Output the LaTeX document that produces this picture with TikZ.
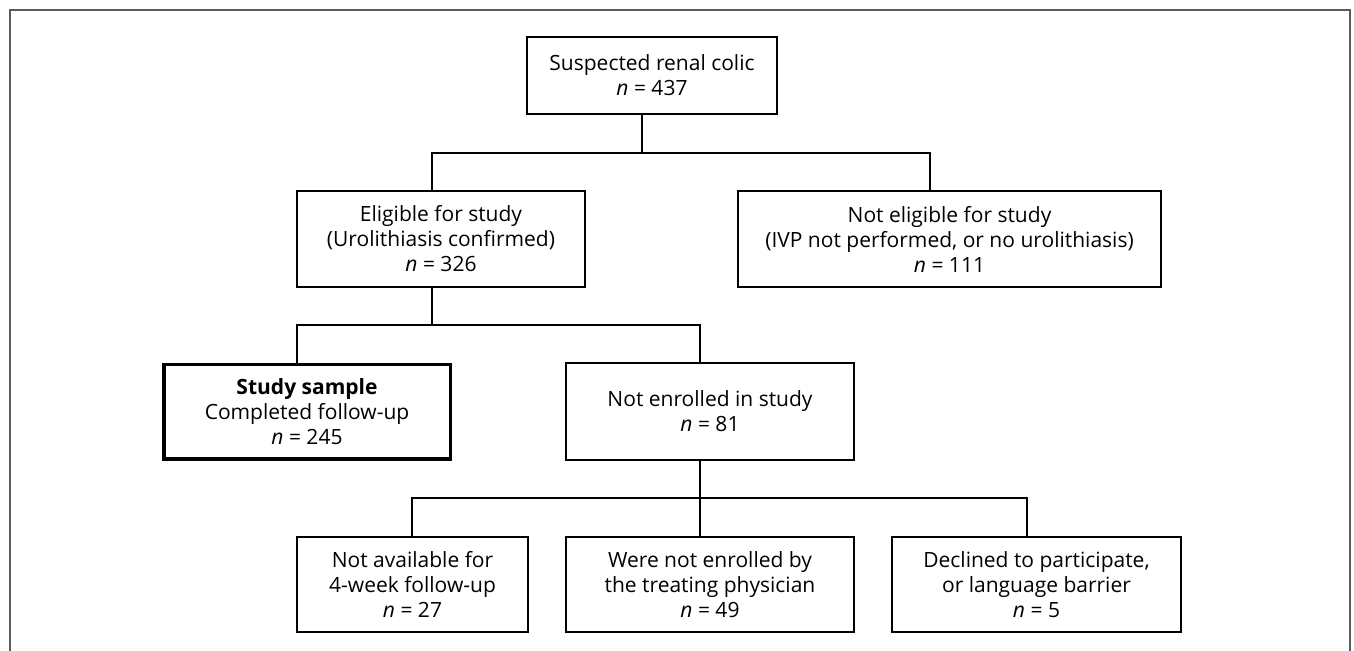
\documentclass[tikz,border=0pt]{standalone}
\usepackage{fontspec}
\setmainfont{Open Sans}
\usepackage{tikz}
\usetikzlibrary{positioning}
\definecolor{framegray}{RGB}{90,90,90}
\tikzset{%
  stage/.style={draw, rectangle, line width=0.75pt, align=center, inner sep=0pt,
    font=\fontsize{10.5}{12.5}\selectfont},% flow box
  sample/.style={stage, line width=1.75pt},% study sample box
  link/.style={line width=0.7pt}% connector
}

\begin{document}
\begin{tikzpicture}[x=0.5pt, y=-0.5pt]
\useasboundingbox (0,0) rectangle (1354,651);
\draw[framegray, line width=0.75pt] (10,651) -- (10,10) -- (1350,10) -- (1350,651);

\node[stage, minimum width=125pt, minimum height=38.5pt] (renal) at (652,75.5) {Suspected renal colic\\\textit{n} = 437};
\node[stage, minimum width=144pt, minimum height=48pt] (elig) at (441,239) {Eligible for study\\(Urolithiasis confirmed)\\\textit{n} = 326};
\node[stage, minimum width=211.5pt, minimum height=48pt] (notelig) at (949.5,239) {Not eligible for study\\(IVP not performed, or no urolithiasis)\\\textit{n} = 111};
\node[sample, minimum width=143.25pt, minimum height=47.25pt] (study) at (307,412) {\textbf{Study sample}\\Completed follow-up\\\textit{n} = 245};
\node[stage, minimum width=144pt, minimum height=48.5pt] (notenr) at (710,411.5) {Not enrolled in study\\\textit{n} = 81};
\node[stage, minimum width=115.5pt, minimum height=47.5pt] (avail) at (412.5,584.5) {Not available for\\4-week follow-up\\\textit{n} = 27};
\node[stage, minimum width=144pt, minimum height=47.5pt] (phys) at (710,584.5) {Were not enrolled by\\the treating physician\\\textit{n} = 49};
\node[stage, minimum width=144.5pt, minimum height=47.5pt] (decl) at (1036.5,584.5) {Declined to participate,\\or language barrier\\\textit{n} = 5};

% branch points
\coordinate (j1) at (642,153);
\coordinate (j1l) at (432,153);
\coordinate (j1r) at (930,153);
\coordinate (j2) at (432,325);
\coordinate (j2l) at (297,325);
\coordinate (j2r) at (700,325);
\coordinate (j3) at (700,498);
\coordinate (j3l) at (412,498);
\coordinate (j3r) at (1027,498);

\draw[link] (renal.south -| j1) -- (j1);
\draw[link] (elig.north -| j1l) |- (j1r) -- (notelig.north -| j1r);
\draw[link] (elig.south -| j2) -- (j2);
\draw[link] (study.north -| j2l) |- (j2r) -- (notenr.north -| j2r);
\draw[link] (notenr.south -| j3) -- (j3);
\draw[link] (avail.north -| j3l) |- (j3r) -- (decl.north -| j3r);
\draw[link] (phys.north -| j3) -- (j3);
\end{tikzpicture}
\end{document}
